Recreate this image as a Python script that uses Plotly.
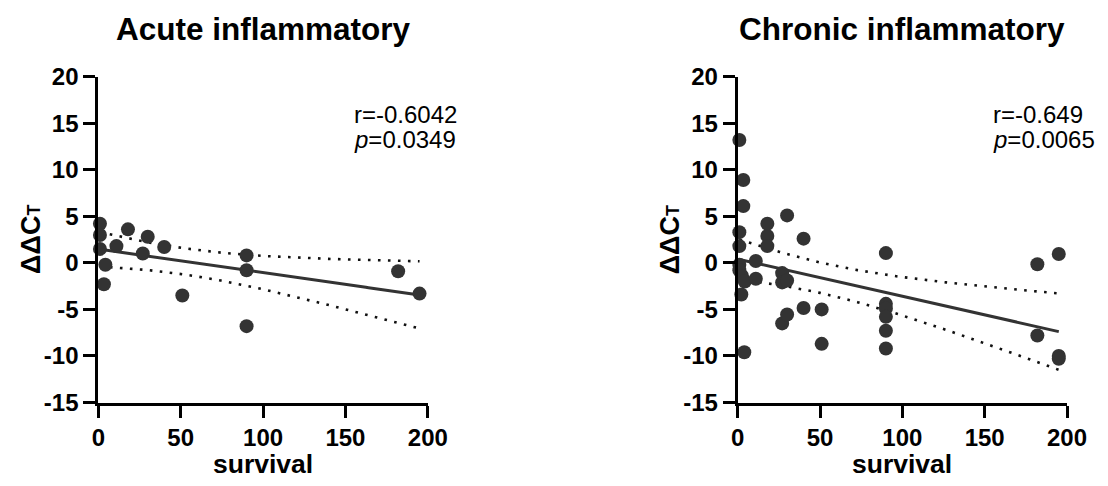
import numpy as np
import plotly.graph_objects as go

# ---------------- data ----------------
acute_survival = [1, 1, 1, 4.3, 3.4, 11, 18, 27, 30, 40, 51, 90, 90, 90, 182, 195]
acute_ddct = [4.2, 3.0, 1.5, -0.2, -2.3, 1.8, 3.6, 1.0, 2.8, 1.7, -3.5, 0.8, -0.8, -6.8, -0.9, -3.3]

chronic_survival = [1, 3.4, 3.4, 1, 1, 1, 1, 2.6, 4.3, 2.2, 11, 11, 18, 18, 18, 30, 40, 27, 27, 30,
                    4, 27, 30, 40, 51, 51, 90, 90, 90, 90, 90, 90, 182, 182, 195, 195, 195]
chronic_ddct = [13.2, 8.9, 6.1, 3.3, 1.8, -0.2, -0.8, -1.4, -2.0, -3.4, 0.2, -1.7, 4.2, 2.9, 1.8, 5.1, 2.6, -1.1, -2.1, -1.9,
                -9.6, -6.5, -5.55, -4.85, -5.0, -8.7, 1.05, -4.4, -4.9, -5.8, -7.3, -9.2, -0.15, -7.8, 0.95, -10.0, -10.3]

titles = ["Acute inflammatory", "Chronic inflammatory"]
stats_r = ["r=-0.6042", "r=-0.649"]
stats_p = ["0.0349", "0.0065"]
x_ticks = [0, 50, 100, 150, 200]
y_ticks = [-15, -10, -5, 0, 5, 10, 15, 20]
y_ticklabels = ["-15", "-10", "-5", "0", "5", "10", "15", "20"]

FONT = "Liberation Sans, Arial, sans-serif"
DOT_COLOR = "#333333"
W, H = 1108.0, 486.0


def t975(df):
    z = 1.959964
    g1 = (z**3 + z) / 4
    g2 = (5 * z**5 + 16 * z**3 + 3 * z) / 96
    g3 = (3 * z**7 + 19 * z**5 + 17 * z**3 - 15 * z) / 384
    return z + g1 / df + g2 / df**2 + g3 / df**3


def fit(x, y):
    x = np.asarray(x, float)
    y = np.asarray(y, float)
    n = len(x)
    b, a = np.polyfit(x, y, 1)
    resid = y - (a + b * x)
    s = np.sqrt(np.sum(resid**2) / (n - 2))
    xbar = x.mean()
    sxx = np.sum((x - xbar) ** 2)
    xs = np.linspace(x.min(), x.max(), 120)
    yh = a + b * xs
    half = t975(n - 2) * s * np.sqrt(1 / n + (xs - xbar) ** 2 / sxx)
    return xs, yh, yh - half, yh + half


fig = go.Figure()

panels = [(acute_survival, acute_ddct, "x", "y"), (chronic_survival, chronic_ddct, "x2", "y2")]
for (xv, yv, xa, ya) in panels:
    xs, yh, lo, hi = fit(xv, yv)
    for band in (lo, hi):
        fig.add_trace(go.Scatter(x=xs, y=band, mode="lines", xaxis=xa, yaxis=ya,
                                 line=dict(color="#111111", width=2.6, dash="2.6px,7.4px"),
                                 showlegend=False, hoverinfo="skip", cliponaxis=False))
    fig.add_trace(go.Scatter(x=xs, y=yh, mode="lines", xaxis=xa, yaxis=ya,
                             line=dict(color=DOT_COLOR, width=3),
                             showlegend=False, hoverinfo="skip", cliponaxis=False))
    fig.add_trace(go.Scatter(x=xv, y=yv, mode="markers", xaxis=xa, yaxis=ya,
                             marker=dict(color=DOT_COLOR, size=14, line=dict(width=0)),
                             showlegend=False, cliponaxis=False))

ydom = [1 - 402.5 / H, 1 - 76.7 / H]
xdoms = [[98.3 / W, 427.8 / W], [737.7 / W, 1067.0 / W]]

axis_common = dict(showline=True, linewidth=3, linecolor="black", ticks="outside",
                   ticklen=12, tickwidth=3, tickcolor="black", showgrid=False, zeroline=False,
                   automargin=False,
                   tickfont=dict(family=FONT, size=24, color="black", weight="bold"))

fig.update_layout(
    width=1108, height=486, autosize=False,
    margin=dict(l=0, r=0, t=0, b=0),
    paper_bgcolor="white", plot_bgcolor="white",
    xaxis=dict(domain=xdoms[0], range=[0, 200], tickvals=x_ticks, anchor="y", **axis_common),
    yaxis=dict(domain=ydom, range=[-15, 20], tickvals=y_ticks, ticktext=y_ticklabels, anchor="x", **axis_common),
    xaxis2=dict(domain=xdoms[1], range=[0, 200], tickvals=x_ticks, anchor="y2", **axis_common),
    yaxis2=dict(domain=ydom, range=[-15, 20], tickvals=y_ticks, ticktext=y_ticklabels, anchor="x2", **axis_common),
)

annotations = []
for i in range(2):
    xd = xdoms[i]
    cx = (xd[0] + xd[1]) / 2
    xref = "x" if i == 0 else "x2"
    yref = "y" if i == 0 else "y2"
    annotations.append(dict(text="<b>%s</b>" % titles[i], x=cx, y=1 - 29 / H, xref="paper", yref="paper",
                            showarrow=False, xanchor="center", yanchor="middle",
                            font=dict(family=FONT, size=31.5, color="black")))
    annotations.append(dict(text="<b>survival</b>", x=cx, y=1 - 464 / H, xref="paper", yref="paper",
                            showarrow=False, xanchor="center", yanchor="middle",
                            font=dict(family=FONT, size=26.5, color="black")))
    annotations.append(dict(text="<b>ΔΔC<span style='font-size:18px'>T</span></b>", x=xd[0] - 68 / W, y=0.5 * (ydom[0] + ydom[1]),
                            xref="paper", yref="paper", textangle=-90, showarrow=False,
                            xanchor="center", yanchor="middle",
                            font=dict(family=FONT, size=27, color="black")))
    annotations.append(dict(text=stats_r[i], x=154, y=15.95, xref=xref, yref=yref, showarrow=False,
                            xanchor="left", yanchor="middle", font=dict(family=FONT, size=24, color="black")))
    annotations.append(dict(text="<i>p</i>=" + stats_p[i], x=154, y=13.25, xref=xref, yref=yref, showarrow=False,
                            xanchor="left", yanchor="middle", font=dict(family=FONT, size=24, color="black")))

fig.update_layout(annotations=annotations)
fig.write_html("out.html")
